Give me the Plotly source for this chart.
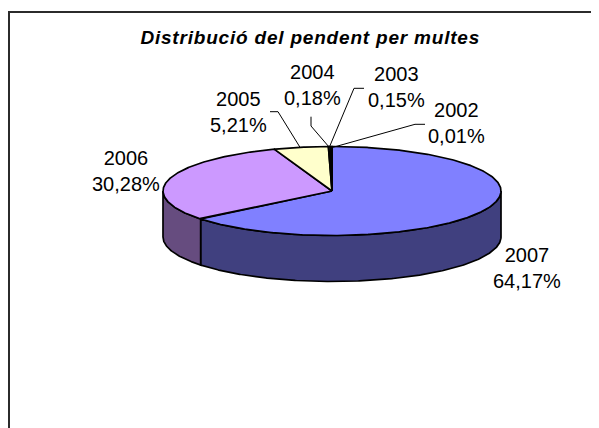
import numpy as np
import plotly.graph_objects as go

categories = ["2007", "2006", "2005", "2004", "2003", "2002"]
values = [64.17, 30.28, 5.21, 0.18, 0.15, 0.01]
value_labels = ["64,17%", "30,28%", "5,21%", "0,18%", "0,15%", "0,01%"]
top_colors = ["#8080FF", "#CC99FF", "#FFFFCC", "#CCFFFF", "#660066", "#FF8080"]
side_colors = ["#40407F", "#664C7F", "#7F7F66", "#667F7F", "#330033", "#7F4040"]
title_text = "Distribució del pendent per multes"

label_x = [527, 126, 238, 312.5, 396.7, 456.7]
label_y = [267.5, 171, 111.5, 85, 86.7, 123]
leaders = {
    "2005": [(270, 111.7), (278, 111.7), (300, 147.3)],
    "2004": [(311, 116.7), (311, 126), (329.3, 147.3)],
    "2003": [(364, 88.3), (354, 88.3), (329.3, 147.3)],
    "2002": [(425, 124.3), (415, 124.3), (333, 147.3)],
}

CX, CY, RX, RY, DEPTH = 332, 191, 169, 44.5, 46
# the page body has an 8 px margin: the axes are set so that data units are page pixels
PAGE_W, PAGE_H, BODY = 599, 428, 8


def rim(t0, t1):
    t = np.radians(np.linspace(t0, t1, max(2, int(abs(t1 - t0) * 2) + 2)))
    return CX + RX * np.sin(t), CY - RY * np.cos(t)


fig = go.Figure()
edges = np.concatenate([[0], np.cumsum(values)]) / sum(values) * 360

for i in range(len(values)):
    a, b = max(edges[i], 90), min(edges[i + 1], 270)
    if a >= b:
        continue
    x, y = rim(a, b)
    px = np.concatenate([x, x[::-1], x[:1]])
    py = np.concatenate([y, y[::-1] + DEPTH, y[:1]])
    fig.add_trace(go.Scatter(x=px, y=py, mode="lines", fill="toself",
                             fillcolor=side_colors[i],
                             line=dict(color="black", width=1.7),
                             hoverinfo="skip", showlegend=False))

for i in range(len(values)):
    x, y = rim(edges[i], edges[i + 1])
    px = np.concatenate([[CX], x, [CX]])
    py = np.concatenate([[CY], y, [CY]])
    fig.add_trace(go.Scatter(x=px, y=py, mode="lines", fill="toself",
                             fillcolor=top_colors[i],
                             line=dict(color="black", width=1.7),
                             hoverinfo="skip", showlegend=False))

# chart frame: only the top and left edges fall inside the picture
shapes = [dict(type="path", path=f"M 9,{PAGE_H + 5} L 9,12 L {PAGE_W + 5},12",
               line=dict(color="#2b2b2b", width=2), layer="below")]
for pts in leaders.values():
    path = "M " + " L ".join(f"{a},{b}" for a, b in pts)
    shapes.append(dict(type="path", path=path, line=dict(color="black", width=1)))

annotations = [dict(x=310, y=37, text=f"<b><i>{title_text}</i></b>", showarrow=False,
                    font=dict(family="Liberation Sans", size=19, color="black"))]
for c, v, x, y in zip(categories, value_labels, label_x, label_y):
    annotations.append(dict(x=x, y=y, text=f"{c}<br>{v}", showarrow=False, align="center",
                            font=dict(family="Liberation Sans", size=20, color="black")))

fig.update_layout(
    width=PAGE_W - BODY, height=PAGE_H - BODY, margin=dict(l=0, r=0, t=0, b=0),
    paper_bgcolor="white", plot_bgcolor="white", showlegend=False,
    xaxis=dict(range=[BODY, PAGE_W], visible=False, fixedrange=True),
    yaxis=dict(range=[PAGE_H, BODY], visible=False, fixedrange=True),
    shapes=shapes, annotations=annotations,
)
# the title in the reference is set with wider spacing than the font's own
post = """
var t = document.querySelector('.annotation text');
if (t) { t.style.letterSpacing = '0.8px'; }
document.documentElement.style.overflow = 'hidden';
"""
fig.write_html("out.html", config=dict(displayModeBar=False), post_script=post)
